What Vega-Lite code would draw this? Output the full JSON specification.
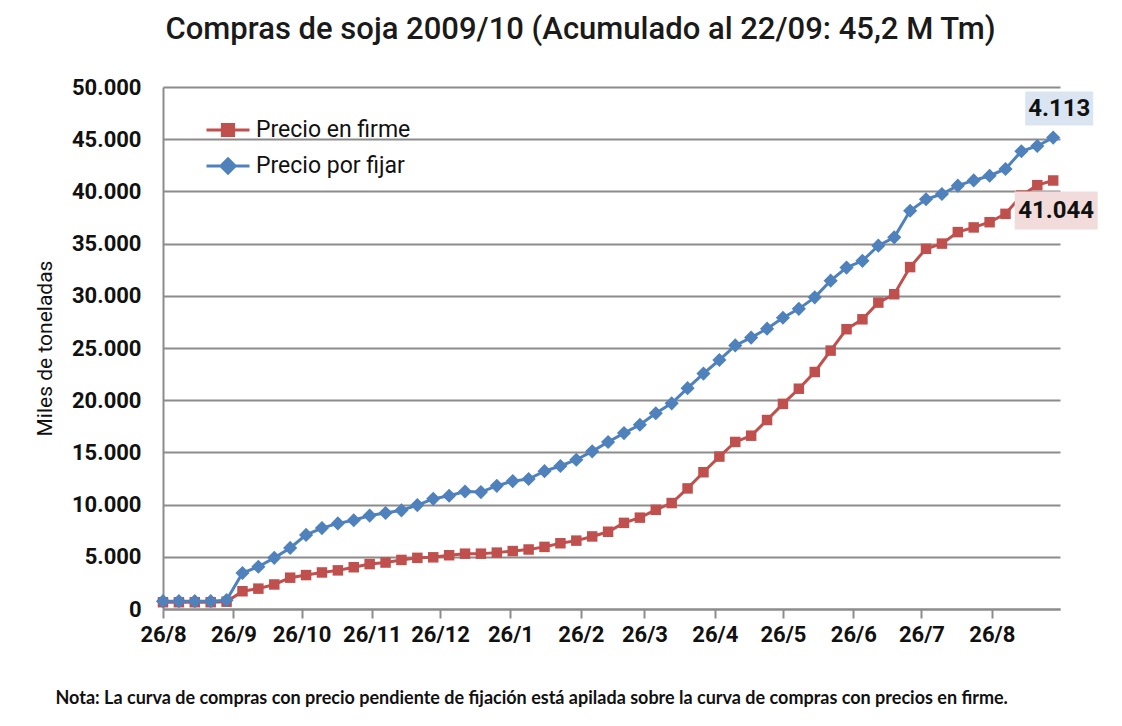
{
  "$schema": "https://vega.github.io/schema/vega-lite/v6.json",
  "width": 897,
  "height": 522,
  "autosize": {"type": "none"},
  "padding": {"left": 163, "top": 87, "right": 62, "bottom": 117},
  "background": "white",
  "config": {
    "locale": {"number": {"decimal": ",", "thousands": ".", "grouping": [3], "currency": ["", ""]}},
    "font": "Roboto",
    "view": {"stroke": null}
  },
  "title": {
    "text": "Compras de soja 2009/10 (Acumulado al 22/09: 45,2 M Tm)",
    "font": "Roboto",
    "fontSize": 31,
    "fontWeight": 500,
    "color": "#1a1a1a",
    "anchor": "middle",
    "frame": "group",
    "dx": -31,
    "offset": 30
  },
  "data": {
    "values": [
      {"fecha": "2009-08-26", "Precio en firme": 650, "Precio por fijar": 750},
      {"fecha": "2009-09-02", "Precio en firme": 650, "Precio por fijar": 750},
      {"fecha": "2009-09-09", "Precio en firme": 650, "Precio por fijar": 750},
      {"fecha": "2009-09-16", "Precio en firme": 650, "Precio por fijar": 750},
      {"fecha": "2009-09-23", "Precio en firme": 700, "Precio por fijar": 850},
      {"fecha": "2009-09-30", "Precio en firme": 1700, "Precio por fijar": 3450},
      {"fecha": "2009-10-07", "Precio en firme": 1950, "Precio por fijar": 4050},
      {"fecha": "2009-10-14", "Precio en firme": 2350, "Precio por fijar": 4900},
      {"fecha": "2009-10-21", "Precio en firme": 3000, "Precio por fijar": 5850},
      {"fecha": "2009-10-28", "Precio en firme": 3250, "Precio por fijar": 7100},
      {"fecha": "2009-11-04", "Precio en firme": 3500, "Precio por fijar": 7750},
      {"fecha": "2009-11-11", "Precio en firme": 3700, "Precio por fijar": 8200},
      {"fecha": "2009-11-18", "Precio en firme": 4000, "Precio por fijar": 8500},
      {"fecha": "2009-11-25", "Precio en firme": 4300, "Precio por fijar": 8950},
      {"fecha": "2009-12-02", "Precio en firme": 4450, "Precio por fijar": 9200},
      {"fecha": "2009-12-09", "Precio en firme": 4700, "Precio por fijar": 9450},
      {"fecha": "2009-12-16", "Precio en firme": 4900, "Precio por fijar": 9950},
      {"fecha": "2009-12-23", "Precio en firme": 4950, "Precio por fijar": 10550},
      {"fecha": "2009-12-30", "Precio en firme": 5150, "Precio por fijar": 10850},
      {"fecha": "2010-01-06", "Precio en firme": 5300, "Precio por fijar": 11250},
      {"fecha": "2010-01-13", "Precio en firme": 5300, "Precio por fijar": 11200},
      {"fecha": "2010-01-20", "Precio en firme": 5400, "Precio por fijar": 11800},
      {"fecha": "2010-01-27", "Precio en firme": 5550, "Precio por fijar": 12250},
      {"fecha": "2010-02-03", "Precio en firme": 5700, "Precio por fijar": 12450},
      {"fecha": "2010-02-10", "Precio en firme": 5950, "Precio por fijar": 13200},
      {"fecha": "2010-02-17", "Precio en firme": 6300, "Precio por fijar": 13700},
      {"fecha": "2010-02-24", "Precio en firme": 6550, "Precio por fijar": 14300},
      {"fecha": "2010-03-03", "Precio en firme": 6950, "Precio por fijar": 15100},
      {"fecha": "2010-03-10", "Precio en firme": 7400, "Precio por fijar": 16000},
      {"fecha": "2010-03-17", "Precio en firme": 8250, "Precio por fijar": 16850},
      {"fecha": "2010-03-24", "Precio en firme": 8750, "Precio por fijar": 17650},
      {"fecha": "2010-03-31", "Precio en firme": 9500, "Precio por fijar": 18750},
      {"fecha": "2010-04-07", "Precio en firme": 10150, "Precio por fijar": 19700},
      {"fecha": "2010-04-14", "Precio en firme": 11550, "Precio por fijar": 21150},
      {"fecha": "2010-04-21", "Precio en firme": 13100, "Precio por fijar": 22550},
      {"fecha": "2010-04-28", "Precio en firme": 14600, "Precio por fijar": 23850},
      {"fecha": "2010-05-05", "Precio en firme": 16000, "Precio por fijar": 25250},
      {"fecha": "2010-05-12", "Precio en firme": 16600, "Precio por fijar": 26000},
      {"fecha": "2010-05-19", "Precio en firme": 18100, "Precio por fijar": 26850},
      {"fecha": "2010-05-26", "Precio en firme": 19650, "Precio por fijar": 27900},
      {"fecha": "2010-06-02", "Precio en firme": 21100, "Precio por fijar": 28750},
      {"fecha": "2010-06-09", "Precio en firme": 22700, "Precio por fijar": 29850},
      {"fecha": "2010-06-16", "Precio en firme": 24750, "Precio por fijar": 31450},
      {"fecha": "2010-06-23", "Precio en firme": 26800, "Precio por fijar": 32700},
      {"fecha": "2010-06-30", "Precio en firme": 27750, "Precio por fijar": 33350},
      {"fecha": "2010-07-07", "Precio en firme": 29350, "Precio por fijar": 34800},
      {"fecha": "2010-07-14", "Precio en firme": 30150, "Precio por fijar": 35600},
      {"fecha": "2010-07-21", "Precio en firme": 32750, "Precio por fijar": 38150},
      {"fecha": "2010-07-28", "Precio en firme": 34500, "Precio por fijar": 39250},
      {"fecha": "2010-08-04", "Precio en firme": 35000, "Precio por fijar": 39750},
      {"fecha": "2010-08-11", "Precio en firme": 36100, "Precio por fijar": 40550},
      {"fecha": "2010-08-18", "Precio en firme": 36550, "Precio por fijar": 41050},
      {"fecha": "2010-08-25", "Precio en firme": 37050, "Precio por fijar": 41500},
      {"fecha": "2010-09-01", "Precio en firme": 37850, "Precio por fijar": 42150},
      {"fecha": "2010-09-08", "Precio en firme": 39600, "Precio por fijar": 43850},
      {"fecha": "2010-09-15", "Precio en firme": 40600, "Precio por fijar": 44350},
      {"fecha": "2010-09-22", "Precio en firme": 41044, "Precio por fijar": 45157}
    ]
  },
  "transform": [
    {"fold": ["Precio en firme", "Precio por fijar"], "as": ["serie", "valor"]}
  ],
  "encoding": {
    "x": {
      "field": "fecha",
      "type": "temporal",
      "scale": {
        "type": "utc",
        "domain": [
          {"year": 2009, "month": 8, "date": 26, "utc": true},
          {"year": 2010, "month": 9, "date": 25, "utc": true}
        ]
      },
      "axis": {
        "values": [
          {"year": 2009, "month": 8, "date": 26, "utc": true},
          {"year": 2009, "month": 9, "date": 26, "utc": true},
          {"year": 2009, "month": 10, "date": 26, "utc": true},
          {"year": 2009, "month": 11, "date": 26, "utc": true},
          {"year": 2009, "month": 12, "date": 26, "utc": true},
          {"year": 2010, "month": 1, "date": 26, "utc": true},
          {"year": 2010, "month": 2, "date": 26, "utc": true},
          {"year": 2010, "month": 3, "date": 26, "utc": true},
          {"year": 2010, "month": 4, "date": 26, "utc": true},
          {"year": 2010, "month": 5, "date": 26, "utc": true},
          {"year": 2010, "month": 6, "date": 26, "utc": true},
          {"year": 2010, "month": 7, "date": 26, "utc": true},
          {"year": 2010, "month": 8, "date": 26, "utc": true}
        ],
        "format": "%-d/%-m",
        "grid": false,
        "domainColor": "#8c8c8c",
        "domainWidth": 2,
        "tickColor": "#8c8c8c",
        "tickSize": 9,
        "tickWidth": 2,
        "labelFont": "Roboto",
        "labelFontSize": 22,
        "labelFontWeight": "bold",
        "labelColor": "#111111",
        "labelPadding": 6,
        "labelFlush": false,
        "labelOverlap": false,
        "title": "Nota: La curva de compras con precio pendiente de fijación está apilada sobre la curva de compras con precios en firme.",
        "titleFont": "Lato",
        "titleFontSize": 18,
        "titleFontWeight": "bold",
        "titleColor": "#111111",
        "titleAnchor": "start",
        "titleAlign": "left",
        "titleX": -108,
        "titleY": 94,
        "titleBaseline": "alphabetic"
      }
    },
    "y": {
      "field": "valor",
      "type": "quantitative",
      "scale": {"domain": [0, 50000]},
      "axis": {
        "values": [0, 5000, 10000, 15000, 20000, 25000, 30000, 35000, 40000, 45000, 50000],
        "format": ",d",
        "ticks": false,
        "labelFont": "Roboto",
        "labelFontSize": 22,
        "labelFontWeight": "bold",
        "labelColor": "#111111",
        "labelPadding": 22,
        "domainColor": "#8c8c8c",
        "domainWidth": 2,
        "gridColor": "#8c8c8c",
        "gridWidth": 2,
        "title": "Miles de toneladas",
        "titleFont": "Roboto",
        "titleFontSize": 21,
        "titleFontWeight": "normal",
        "titleColor": "#111111",
        "titleAngle": -90,
        "titleX": -118,
        "titleY": 261,
        "titleAlign": "center",
        "titleBaseline": "middle"
      }
    }
  },
  "layer": [
    {
      "transform": [{"filter": "datum.serie === 'Precio en firme'"}],
      "mark": {"type": "line", "strokeWidth": 3},
      "encoding": {
        "color": {
          "field": "serie",
          "type": "nominal",
          "scale": {"domain": ["Precio en firme", "Precio por fijar"], "range": ["#C0504D", "#4F81BD"]},
          "legend": {
            "title": null,
            "orient": "none",
            "legendX": 42,
            "legendY": 20,
            "padding": 0,
            "rowPadding": 1,
            "labelFont": "Roboto",
            "labelFontSize": 23,
            "labelColor": "#111111",
            "labelOffset": 5,
            "symbolSize": 1849,
            "symbolStrokeWidth": 3,
            "encode": {
              "symbols": {
                "update": {
                  "shape": {"signal": "datum.value === 'Precio en firme' ? 'M-1,0L1,0M-0.26,-0.26H0.26V0.26H-0.26Z' : 'M-1,0L1,0M0,-0.33L0.33,0L0,0.33L-0.33,0Z'"},
                  "fill": {"signal": "datum.value === 'Precio en firme' ? '#C0504D' : '#4F81BD'"},
                  "stroke": {"signal": "datum.value === 'Precio en firme' ? '#C0504D' : '#4F81BD'"},
                  "strokeWidth": {"value": 3},
                  "opacity": {"value": 1}
                }
              }
            }
          }
        }
      }
    },
    {
      "transform": [{"filter": "datum.serie === 'Precio en firme'"}],
      "mark": {"type": "point", "shape": "square", "filled": true, "size": 110, "opacity": 1, "color": "#C0504D"}
    },
    {
      "transform": [{"filter": "datum.serie === 'Precio por fijar'"}],
      "mark": {"type": "line", "strokeWidth": 3},
      "encoding": {
        "color": {"field": "serie", "type": "nominal"}
      }
    },
    {
      "transform": [{"filter": "datum.serie === 'Precio por fijar'"}],
      "mark": {"type": "point", "shape": "diamond", "filled": true, "size": 200, "opacity": 1, "color": "#4F81BD"}
    },
    {
      "transform": [{"filter": "datum.serie === 'Precio por fijar' && datum.valor === 45157"}],
      "mark": {"type": "point", "shape": "M-1,-0.5H1V0.5H-1Z", "size": 4624, "filled": true, "opacity": 1, "color": "#DBE5F1", "xOffset": 6, "yOffset": -29}
    },
    {
      "transform": [{"filter": "datum.serie === 'Precio en firme' && datum.valor === 41044"}],
      "mark": {"type": "point", "shape": "M-1,-0.458H1V0.458H-1Z", "size": 6889, "filled": true, "opacity": 1, "color": "#F2DCDB", "xOffset": 3, "yOffset": 30}
    },
    {
      "transform": [{"filter": "datum.serie === 'Precio por fijar' && datum.valor === 45157"}],
      "mark": {"type": "text", "font": "Roboto", "fontSize": 24, "fontWeight": "bold", "color": "#111111", "dx": 6, "dy": -29, "baseline": "middle", "align": "center"},
      "encoding": {
        "text": {"value": "4.113"}
      }
    },
    {
      "transform": [{"filter": "datum.serie === 'Precio en firme' && datum.valor === 41044"}],
      "mark": {"type": "text", "font": "Roboto", "fontSize": 24, "fontWeight": "bold", "color": "#111111", "dx": 3, "dy": 30, "baseline": "middle", "align": "center"},
      "encoding": {
        "text": {"field": "valor", "type": "quantitative", "format": ",d"}
      }
    }
  ]
}
